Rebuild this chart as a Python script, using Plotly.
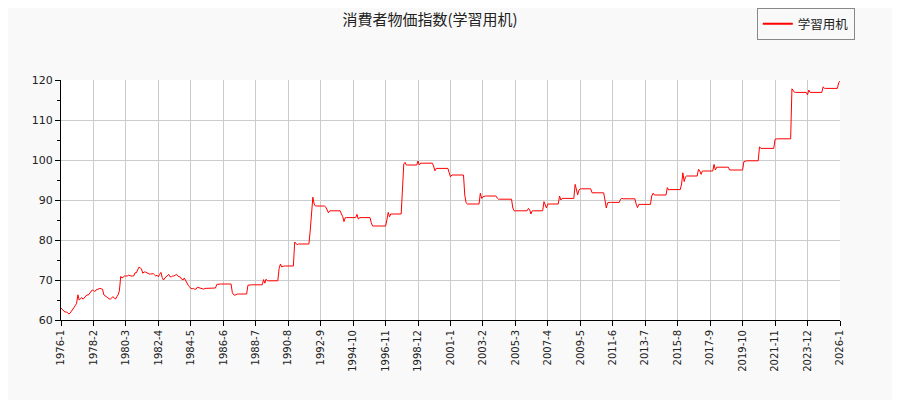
import pandas as pd
import plotly.graph_objects as go

# monthly index values, 1976-1 .. 2026-1
y1976 = [63.0, 62.6, 62.3, 62.0, 62.0, 61.9, 61.5, 61.7, 62.2, 62.6, 62.9, 63.6]
y1977 = [64.2, 66.3, 65.0, 65.4, 65.6, 65.2, 65.6, 66.0, 66.3, 66.2, 66.7, 67.1]
y1978 = [67.5, 67.4, 67.1, 67.5, 67.7, 67.9, 67.9, 67.8, 67.7, 66.3, 66.0, 65.8]
y1979 = [65.6, 65.3, 65.2, 65.5, 65.8, 65.6, 65.2, 65.8, 66.3, 67.3, 70.9, 70.5]
y1980 = [70.8, 71.0, 71.0, 71.0, 71.2, 71.0, 71.0, 71.0, 71.0, 71.8, 71.8, 72.5]
y1981 = [73.2, 73.0, 72.8, 71.7, 72.0, 72.0, 71.8, 71.5, 71.5, 71.5, 71.5, 71.6]
y1982 = [71.3, 71.0, 71.2, 70.8, 71.4, 71.9, 70.6, 70.0, 70.5, 70.8, 71.2, 71.4]
y1983 = [70.8, 70.8, 71.0, 71.0, 71.2, 71.4, 71.0, 70.8, 70.7, 70.2, 70.0, 70.5]
y1984 = [69.8, 69.3, 68.7, 68.3, 67.9, 67.8, 67.9, 67.7, 67.7, 68.2, 68.1, 68.0]
y1985 = [67.9, 67.8, 67.7, 67.9, 67.9, 68.0, 68.0, 68.0, 68.0, 68.0, 68.0, 68.0]
y1986 = [68.9, 69.0, 68.9, 69.0, 69.0, 69.0, 69.0, 69.0, 69.0, 69.0, 69.0, 69.0]
y1987 = [66.8, 66.3, 66.2, 66.4, 66.5, 66.5, 66.5, 66.5, 66.5, 66.5, 66.5, 66.5]
y1988 = [68.7, 68.8, 68.8, 68.8, 68.8, 68.8, 68.8, 68.8, 68.8, 68.8, 68.8, 68.8]
y1989 = [70.1, 69.2, 70.2, 69.8, 69.8, 69.8, 69.8, 69.8, 69.8, 69.8, 69.8, 69.8]
y1990 = [72.9, 74.0, 73.3, 73.5, 73.5, 73.5, 73.5, 73.5, 73.5, 73.5, 73.5, 73.5]
y1991 = [79.5, 79.2, 78.8, 79.0, 79.0, 79.0, 79.0, 79.0, 79.0, 79.0, 79.0, 79.0]
y1992 = [82.5, 87.2, 90.7, 89.0, 88.5, 88.5, 88.5, 88.5, 88.5, 88.5, 88.5, 88.5]
y1993 = [88.2, 87.5, 86.8, 87.3, 87.3, 87.3, 87.3, 87.3, 87.3, 87.3, 87.3, 87.3]
y1994 = [86.5, 85.8, 84.6, 85.6, 85.6, 85.6, 85.6, 85.6, 85.6, 85.6, 85.6, 85.6]
y1995 = [86.4, 85.2, 85.6, 85.6, 85.6, 85.6, 85.6, 85.6, 85.6, 85.6, 85.6, 84.3]
y1996 = [83.5, 83.5, 83.5, 83.5, 83.5, 83.5, 83.5, 83.5, 83.5, 83.5, 83.5, 85.0]
y1997 = [86.9, 85.8, 86.5, 86.5, 86.5, 86.5, 86.5, 86.5, 86.5, 86.5, 86.5, 92.5]
y1998 = [99.0, 99.4, 98.75, 98.75, 98.75, 98.75, 98.75, 98.75, 98.75, 98.75, 98.75, 99.75]
y1999 = [98.75, 99.2, 99.2, 99.2, 99.2, 99.2, 99.2, 99.2, 99.2, 99.2, 99.2, 98.5]
y2000 = [97.3, 97.9, 97.9, 97.9, 97.9, 97.9, 97.9, 97.9, 97.9, 97.9, 97.9, 96.8]
y2001 = [95.8, 96.25, 96.25, 96.25, 96.25, 96.25, 96.25, 96.25, 96.25, 96.25, 96.25, 91.25]
y2002 = [89.3, 89.0, 89.0, 89.0, 89.0, 89.0, 89.0, 89.0, 89.0, 89.0, 89.0, 91.7]
y2003 = [90.4, 90.8, 91.0, 91.0, 91.0, 91.0, 91.0, 91.0, 91.0, 91.0, 91.0, 91.0]
y2004 = [90.5, 90.2, 90.2, 90.2, 90.2, 90.2, 90.2, 90.2, 90.2, 90.2, 90.2, 90.2]
y2005 = [88.0, 87.3, 87.3, 87.3, 87.3, 87.3, 87.3, 87.3, 87.3, 87.3, 87.3, 87.3]
y2006 = [87.9, 87.5, 86.5, 87.3, 87.3, 87.3, 87.3, 87.3, 87.3, 87.3, 87.3, 87.3]
y2007 = [89.6, 88.5, 88.0, 89.0, 89.0, 89.0, 89.0, 89.0, 89.0, 89.0, 89.0, 89.0]
y2008 = [91.0, 90.0, 90.4, 90.4, 90.4, 90.4, 90.4, 90.4, 90.4, 90.4, 90.4, 90.4]
y2009 = [93.9, 92.0, 91.3, 92.5, 92.8, 92.8, 92.8, 92.8, 92.8, 92.8, 92.8, 92.8]
y2010 = [92.8, 91.8, 91.8, 91.8, 91.8, 91.8, 91.8, 91.8, 91.8, 91.8, 91.8, 90.0]
y2011 = [88.0, 89.3, 89.4, 89.4, 89.4, 89.4, 89.4, 89.4, 89.4, 89.4, 89.4, 90.2]
y2012 = [90.4, 90.3, 90.3, 90.3, 90.3, 90.3, 90.3, 90.3, 90.3, 90.3, 90.3, 89.0]
y2013 = [88.1, 88.9, 88.9, 88.9, 88.9, 88.9, 88.9, 88.9, 88.9, 88.9, 88.9, 91.0]
y2014 = [91.7, 91.25, 91.25, 91.25, 91.25, 91.25, 91.25, 91.25, 91.25, 91.25, 91.25, 93.1]
y2015 = [92.5, 92.6, 92.6, 92.6, 92.6, 92.6, 92.6, 92.6, 92.6, 92.6, 94.0, 96.8]
y2016 = [94.6, 95.8, 96.0, 96.0, 96.0, 96.0, 96.0, 96.0, 96.0, 96.0, 96.0, 97.7]
y2017 = [97.25, 96.4, 97.25, 97.25, 97.25, 97.25, 97.25, 97.25, 97.25, 97.25, 97.25, 98.9]
y2018 = [97.5, 98.2, 98.2, 98.2, 98.2, 98.2, 98.2, 98.2, 98.2, 98.2, 98.2, 97.5]
y2019 = [97.5, 97.5, 97.5, 97.5, 97.5, 97.5, 97.5, 97.5, 97.5, 97.5, 99.6, 99.8]
y2020 = [99.8, 99.8, 99.8, 99.8, 99.8, 99.8, 99.8, 99.8, 99.8, 99.8, 103.3, 102.9]
y2021 = [102.9, 102.9, 102.9, 102.9, 102.9, 102.9, 102.9, 102.9, 102.9, 102.9, 105.2, 105.3]
y2022 = [105.3, 105.3, 105.3, 105.3, 105.3, 105.3, 105.3, 105.3, 105.3, 105.3, 105.3, 117.8]
y2023 = [117.3, 116.9, 116.9, 116.9, 116.9, 116.9, 116.9, 116.9, 116.9, 116.9, 116.9, 116.3]
y2024 = [117.5, 116.9, 116.9, 116.9, 116.9, 116.9, 116.9, 116.9, 116.9, 116.9, 116.9, 118.3]
y2025 = [117.9, 117.9, 117.9, 117.9, 117.9, 117.9, 117.9, 117.9, 117.9, 117.9, 117.9, 119.3]
y2026 = [119.75]

tick_labels = [
    "1976-1", "1978-2", "1980-3", "1982-4", "1984-5", "1986-6", "1988-7",
    "1990-8", "1992-9", "1994-10", "1996-11", "1998-12", "2001-1", "2003-2",
    "2005-3", "2007-4", "2009-5", "2011-6", "2013-7", "2015-8", "2017-9",
    "2019-10", "2021-11", "2023-12", "2026-1",
]

values = (
    y1976 + y1977 + y1978 + y1979 + y1980 + y1981 + y1982 + y1983 + y1984
    + y1985 + y1986 + y1987 + y1988 + y1989 + y1990 + y1991 + y1992 + y1993
    + y1994 + y1995 + y1996 + y1997 + y1998 + y1999 + y2000 + y2001 + y2002
    + y2003 + y2004 + y2005 + y2006 + y2007 + y2008 + y2009 + y2010 + y2011
    + y2012 + y2013 + y2014 + y2015 + y2016 + y2017 + y2018 + y2019 + y2020
    + y2021 + y2022 + y2023 + y2024 + y2025 + y2026
)

months = pd.date_range("1976-01-01", periods=len(values), freq="MS")
tick_vals = [pd.Timestamp(f"{t}-01") for t in tick_labels]

font = "DejaVu Sans, Noto Sans CJK JP"
series_name = "学習用机"

fig = go.Figure()
fig.add_trace(
    go.Scatter(
        x=months,
        y=values,
        mode="lines",
        name=series_name,
        line=dict(color="#ff0000", width=1),
        showlegend=False,
    )
)
# legend entry only, with the thicker swatch line of the reference
fig.add_trace(
    go.Scatter(
        x=[None],
        y=[None],
        mode="lines",
        name=series_name,
        line=dict(color="#ff0000", width=2),
        hoverinfo="skip",
    )
)

# the page body adds an 8px offset, margins are set with that in mind
fig.update_layout(
    width=900,
    height=400,
    margin=dict(l=53, r=68, t=72, b=88, autoexpand=False),
    paper_bgcolor="#f9f9f9",
    plot_bgcolor="#ffffff",
    font=dict(family=font, size=11, color="#222222"),
    title=dict(
        text="消費者物価指数(学習用机)",
        x=0.469,
        xanchor="center",
        y=0.97,
        yanchor="middle",
        font=dict(family="Noto Sans CJK JP", size=15, color="#222222"),
    ),
    showlegend=True,
    legend=dict(
        x=1.019,
        xanchor="right",
        y=1.3,
        yanchor="top",
        bgcolor="#f9f9f9",
        bordercolor="#888888",
        borderwidth=1,
        itemwidth=30,
        font=dict(family="Noto Sans CJK JP", size=12.5),
    ),
)

fig.update_xaxes(
    range=[months[0], months[-1]],
    tickvals=tick_vals,
    ticktext=tick_labels,
    tickangle=-90,
    tickfont=dict(size=10),
    ticks="outside",
    ticklen=5,
    tickcolor="#000000",
    showline=True,
    linecolor="#000000",
    linewidth=1,
    showgrid=True,
    gridcolor="#cccccc",
    gridwidth=1,
    zeroline=False,
    automargin=False,
)
fig.update_yaxes(
    range=[60, 120],
    dtick=10,
    ticks="outside",
    ticklen=5,
    tickcolor="#000000",
    showline=True,
    linecolor="#000000",
    linewidth=1,
    showgrid=True,
    gridcolor="#cccccc",
    gridwidth=1,
    zeroline=False,
    automargin=False,
    minor=dict(dtick=5, ticks="outside", ticklen=3, tickcolor="#000000", showgrid=False),
)

fig.write_html("out.html")
